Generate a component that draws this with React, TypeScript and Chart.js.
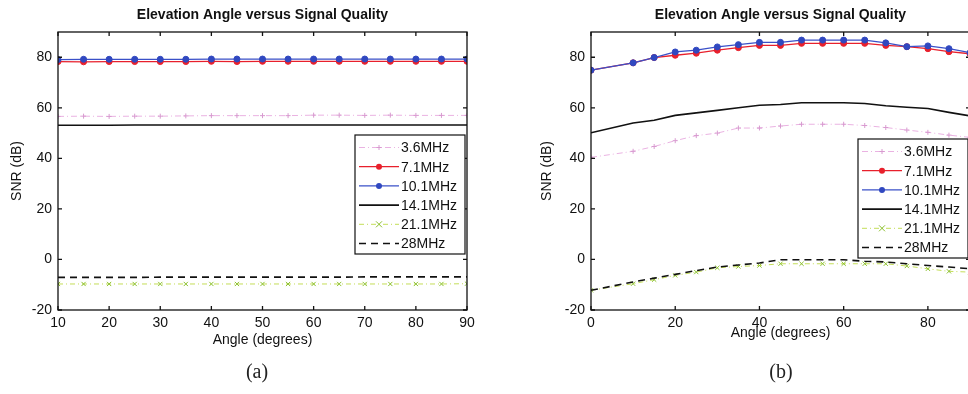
import React, { useEffect, useRef } from 'react';
import { Chart, registerables } from 'chart.js';

Chart.register(...registerables);

// ---------- data ----------
const seriesLabels = ['3.6MHz', '7.1MHz', '10.1MHz', '14.1MHz', '21.1MHz', '28MHz'];

const anglesA = [10, 15, 20, 25, 30, 35, 40, 45, 50, 55, 60, 65, 70, 75, 80, 85, 90];
const snrA_36 = [56.6, 56.7, 56.6, 56.7, 56.7, 56.8, 56.9, 56.9, 56.9, 56.9, 57.1, 57.1, 57.0, 57.1, 57.0, 57.0, 57.0];
const snrA_71 = [78.3, 78.2, 78.3, 78.3, 78.3, 78.3, 78.4, 78.3, 78.4, 78.4, 78.4, 78.4, 78.4, 78.4, 78.4, 78.4, 78.4];
const snrA_101 = [79.1, 79.2, 79.2, 79.2, 79.2, 79.2, 79.3, 79.3, 79.3, 79.3, 79.3, 79.3, 79.3, 79.3, 79.3, 79.3, 79.3];
const snrA_141 = [53.1, 53.1, 53.1, 53.2, 53.2, 53.2, 53.2, 53.2, 53.2, 53.2, 53.2, 53.2, 53.2, 53.2, 53.2, 53.2, 53.2];
const snrA_211 = [-9.7, -9.7, -9.7, -9.7, -9.7, -9.7, -9.7, -9.7, -9.7, -9.7, -9.7, -9.7, -9.7, -9.7, -9.7, -9.7, -9.6];
const snrA_28 = [-7.1, -7.1, -7.1, -7.1, -7.0, -7.0, -7.0, -7.0, -7.0, -7.0, -7.0, -7.0, -6.9, -6.9, -6.9, -6.9, -6.9];

const anglesB = [0, 10, 15, 20, 25, 30, 35, 40, 45, 50, 55, 60, 65, 70, 75, 80, 85, 90];
const snrB_36 = [40.4, 42.8, 44.7, 47.0, 49.0, 50.0, 52.0, 52.0, 52.8, 53.5, 53.5, 53.5, 53.0, 52.2, 51.2, 50.3, 49.2, 48.3];
const snrB_71 = [74.9, 77.8, 79.9, 80.8, 81.6, 82.8, 83.8, 84.7, 84.7, 85.5, 85.5, 85.5, 85.5, 84.7, 84.2, 83.4, 82.2, 81.4];
const snrB_101 = [74.9, 77.8, 79.9, 82.1, 82.8, 84.1, 85.0, 85.9, 85.9, 86.8, 86.8, 86.8, 86.8, 85.7, 84.2, 84.5, 83.4, 81.8];
const snrB_141 = [50.1, 54.0, 55.1, 57.0, 58.0, 59.0, 60.0, 61.0, 61.3, 62.0, 62.0, 62.0, 61.7, 60.8, 60.2, 59.7, 58.2, 56.8];
const snrB_211 = [-12.2, -9.6, -8.0, -6.3, -5.0, -3.3, -2.8, -2.4, -1.7, -1.7, -1.7, -1.7, -1.7, -1.7, -2.6, -3.7, -4.7, -5.0];
const snrB_28 = [-12.2, -8.9, -7.4, -5.9, -4.4, -3.0, -2.2, -1.4, -0.1, -0.1, -0.1, -0.1, -0.7, -1.0, -1.7, -2.4, -3.0, -3.7];

const yTickValues = [-20, 0, 20, 40, 60, 80];
const xTickValuesA = [10, 20, 30, 40, 50, 60, 70, 80, 90];
const xTickValuesB = [0, 20, 40, 60, 80];

const chartTitle = 'Elevation Angle versus Signal Quality';
const xTitle = 'Angle (degrees)';
const yTitle = 'SNR (dB)';

// ---------- styles ----------
type St = { color: string; width: number; dash: number[]; point: string | null; r: number; pcolor: string };
const styles: St[] = [
  { color: '#eab2e2', width: 1, dash: [6, 3, 1, 3], point: 'cross', r: 2.5, pcolor: '#d89ad0' },
  { color: '#e8202c', width: 1.3, dash: [], point: 'circle', r: 3, pcolor: '#e8202c' },
  { color: '#3a50c8', width: 1.3, dash: [], point: 'circle', r: 3, pcolor: '#3048c0' },
  { color: '#111111', width: 1.6, dash: [], point: null, r: 0, pcolor: '#111111' },
  { color: '#c4de58', width: 1, dash: [5, 3, 1, 3], point: 'crossRot', r: 3, pcolor: '#8cc030' },
  { color: '#111111', width: 1.6, dash: [7, 5], point: null, r: 0, pcolor: '#111111' },
];

const FONT = "'Liberation Sans', Arial, sans-serif";

function drawMarker(ctx: CanvasRenderingContext2D, st: St, x: number, y: number) {
  if (!st.point) return;
  ctx.save();
  ctx.setLineDash([]);
  ctx.strokeStyle = st.pcolor;
  ctx.fillStyle = st.pcolor;
  ctx.lineWidth = 1;
  const r = st.r;
  ctx.beginPath();
  if (st.point === 'circle') {
    ctx.arc(x, y, r, 0, Math.PI * 2);
    ctx.fill();
  } else if (st.point === 'cross') {
    ctx.moveTo(x - r, y); ctx.lineTo(x + r, y);
    ctx.moveTo(x, y - r); ctx.lineTo(x, y + r);
    ctx.stroke();
  } else {
    ctx.moveTo(x - r, y - r); ctx.lineTo(x + r, y + r);
    ctx.moveTo(x - r, y + r); ctx.lineTo(x + r, y - r);
    ctx.stroke();
  }
  ctx.restore();
}

const matlabPlugin = {
  id: 'matlab',
  afterDraw(chart: any, _args: any, opts: any) {
    const ctx: CanvasRenderingContext2D = chart.ctx;
    const { left, right, top, bottom } = chart.chartArea;
    const xs = chart.scales.x;
    const ys = chart.scales.y;
    ctx.save();
    // box
    ctx.strokeStyle = '#111';
    ctx.lineWidth = 1.3;
    ctx.setLineDash([]);
    ctx.strokeRect(left, top, right - left, bottom - top);
    // inward ticks
    const tl = 4;
    ctx.beginPath();
    xs.ticks.forEach((t: any) => {
      const px = xs.getPixelForValue(t.value);
      ctx.moveTo(px, bottom); ctx.lineTo(px, bottom - tl);
      ctx.moveTo(px, top); ctx.lineTo(px, top + tl);
    });
    ys.ticks.forEach((t: any) => {
      const py = ys.getPixelForValue(t.value);
      ctx.moveTo(left, py); ctx.lineTo(left + tl, py);
      ctx.moveTo(right, py); ctx.lineTo(right - tl, py);
    });
    ctx.stroke();
    // title centred on plot area
    ctx.fillStyle = '#111';
    ctx.font = `bold 14px ${FONT}`;
    ctx.textAlign = 'center';
    ctx.textBaseline = 'middle';
    ctx.fillText(chartTitle, (left + right) / 2, 15);
    // legend box
    const bw = 110;
    const rowH = 19.2;
    const bx = right - 2 - bw;
    const by = top + opts.legendTop;
    const bh = 119;
    ctx.fillStyle = '#ffffff';
    ctx.fillRect(bx, by, bw, bh);
    ctx.strokeStyle = '#111';
    ctx.lineWidth = 1.2;
    ctx.strokeRect(bx, by, bw, bh);
    chart.data.datasets.forEach((ds: any, i: number) => {
      const st = styles[i];
      const cy = by + 12.5 + i * rowH;
      ctx.save();
      ctx.strokeStyle = st.color;
      ctx.lineWidth = st.width;
      ctx.setLineDash(st.dash);
      ctx.beginPath();
      ctx.moveTo(bx + 4, cy);
      ctx.lineTo(bx + 44, cy);
      ctx.stroke();
      ctx.restore();
      drawMarker(ctx, st, bx + 24, cy);
      ctx.fillStyle = '#111';
      ctx.font = `14px ${FONT}`;
      ctx.textAlign = 'left';
      ctx.textBaseline = 'middle';
      ctx.fillText(ds.label, bx + 46, cy + 1);
    });
    ctx.restore();
  },
};

function buildDatasets(xsArr: number[], series: number[][]) {
  return series.map((ys, i) => {
    const st = styles[i];
    return {
      label: seriesLabels[i],
      data: xsArr.map((x, j) => ({ x, y: ys[j] })),
      borderColor: st.color,
      borderWidth: st.width,
      borderDash: st.dash,
      pointStyle: st.point || 'circle',
      pointRadius: st.point ? st.r : 0,
      pointBackgroundColor: st.pcolor,
      pointBorderColor: st.pcolor,
      pointBorderWidth: 1,
      tension: 0,
      fill: false,
      order: 6 - i,
    };
  });
}

type PanelProps = {
  width: number;
  xsArr: number[];
  series: number[][];
  xMin: number;
  xMax: number;
  xTicks: number[];
  yAxisWidth: number;
  yTitlePad: number;
  xTitlePad: number;
  rightPad: number;
  legendTop: number;
};

function Panel(p: PanelProps) {
  const ref = useRef<HTMLCanvasElement | null>(null);
  useEffect(() => {
    if (!ref.current) return;
    const tickFont = { family: FONT, size: 14 };
    const chart = new Chart(ref.current, {
      type: 'line',
      data: { datasets: buildDatasets(p.xsArr, p.series) as any },
      options: {
        responsive: false,
        animation: false,
        layout: { padding: { top: 32, left: 0, right: p.rightPad, bottom: 40 } },
        plugins: {
          legend: { display: false },
          title: { display: false },
          tooltip: { enabled: false },
          matlab: { legendTop: p.legendTop },
        } as any,
        scales: {
          x: {
            type: 'linear',
            min: p.xMin,
            max: p.xMax,
            afterBuildTicks: (s: any) => { s.ticks = p.xTicks.map((v) => ({ value: v })); },
            afterFit: (s: any) => { s.height = 44; },
            grid: { display: false, drawTicks: false },
            border: { display: false },
            ticks: { padding: 5, font: tickFont, color: '#111', autoSkip: false, maxRotation: 0 },
            title: { display: true, text: xTitle, font: tickFont, color: '#111', padding: { top: 0, bottom: p.xTitlePad } },
          },
          y: {
            type: 'linear',
            min: -20,
            max: 90,
            afterBuildTicks: (s: any) => { s.ticks = yTickValues.map((v) => ({ value: v })); },
            afterFit: (s: any) => { s.width = p.yAxisWidth; },
            grid: { display: false, drawTicks: false },
            border: { display: false },
            ticks: { padding: 6, font: tickFont, color: '#111' },
            title: { display: true, text: yTitle, font: tickFont, color: '#111', padding: { top: p.yTitlePad, bottom: 0 } },
          },
        },
      },
      plugins: [matlabPlugin as any],
    });
    return () => chart.destroy();
  }, []);
  return <canvas ref={ref} width={p.width} height={394} style={{ display: 'block' }} />;
}

const captionStyle: React.CSSProperties = {
  position: 'absolute',
  top: 358,
  width: 60,
  textAlign: 'center',
  fontFamily: "'Liberation Serif', 'DejaVu Serif', serif",
  fontSize: 20,
  lineHeight: '26px',
  color: '#222',
};

export default function App() {
  return (
    <div style={{ position: 'absolute', left: 0, top: 0, width: 968, height: 394, overflow: 'hidden', background: '#fff' }}>
      <div style={{ position: 'absolute', left: 0, top: 0, width: 484, height: 394 }}>
        <Panel
          width={484}
          xsArr={anglesA}
          series={[snrA_36, snrA_71, snrA_101, snrA_141, snrA_211, snrA_28]}
          xMin={10}
          xMax={90}
          xTicks={xTickValuesA}
          yAxisWidth={58}
          yTitlePad={8.6}
          xTitlePad={5.6}
          rightPad={17}
          legendTop={103}
        />
      </div>
      <div style={{ position: 'absolute', left: 484, top: 0, width: 484, height: 394, overflow: 'hidden' }}>
        <Panel
          width={500}
          xsArr={anglesB}
          series={[snrB_36, snrB_71, snrB_101, snrB_141, snrB_211, snrB_28]}
          xMin={0}
          xMax={90}
          xTicks={xTickValuesB}
          yAxisWidth={107}
          yTitlePad={54.6}
          xTitlePad={12.6}
          rightPad={14}
          legendTop={107}
        />
      </div>
      <div style={{ ...captionStyle, left: 257 - 30 }}>(a)</div>
      <div style={{ ...captionStyle, left: 781 - 30 }}>(b)</div>
    </div>
  );
}
